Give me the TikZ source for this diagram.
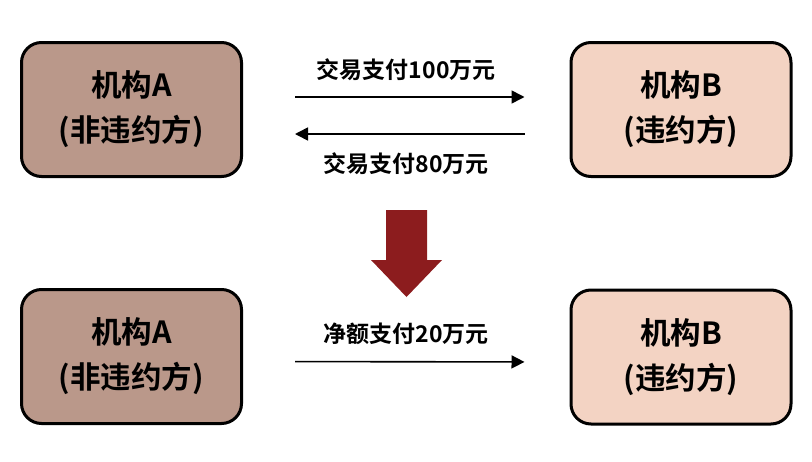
\documentclass[tikz,border=0pt]{standalone}
\usepackage{fontspec}
\newfontfamily\cjk{Noto Sans CJK SC}[BoldFont={Noto Sans CJK SC Bold}]
\usetikzlibrary{arrows.meta, positioning, calc}
\definecolor{PartyA}{HTML}{BA988A}
\definecolor{PartyB}{HTML}{F3D3C3}
\definecolor{DownRed}{HTML}{8C1C1E}
\tikzset{
  abox/.style={draw=black, line width=3pt, rounded corners=20pt, align=center,
    minimum width=220pt, minimum height=134pt, font=\cjk\bfseries\fontsize{30.5}{45}\selectfont,
    fill=PartyA},
  bbox/.style={abox, fill=PartyB},
  lbl/.style={font=\cjk\bfseries\fontsize{23}{26}\selectfont, inner sep=0pt},
  pay/.style={-{Triangle[length=13pt, width=13pt]}, line width=1.6pt, draw=black,
    shorten <=52pt, shorten >=45pt},
}

\begin{document}
\begin{tikzpicture}[x=1pt, y=-1pt]
  \useasboundingbox (0,0) rectangle (812,461);
  % before netting
  \node[abox] (a1) at (131.5,109.5) {机构A\\(非违约方)};
  \node[bbox] (b1) at (681,109.5) {机构B\\(违约方)};
  \draw[pay] ([yshift=12.5pt]a1.east) -- node[lbl, above=15pt] {交易支付100万元} ([yshift=12.5pt]b1.west);
  \draw[pay, shorten <=45pt, shorten >=52pt] ([yshift=-24.5pt]b1.west) -- node[lbl, below=18pt] {交易支付80万元} ([yshift=-24.5pt]a1.east);
  % netting step
  \fill[DownRed] (386,210) -- (427,210) -- (427,260) -- (442,260) -- (406.5,297)
    -- (371,260) -- (386,260) -- cycle;
  % after netting
  \node[abox] (a2) at (131.5,356.5) {机构A\\(非违约方)};
  \node[bbox] (b2) at (681,357) {机构B\\(违约方)};
  \draw[pay] ([yshift=-5pt]a2.east) -- node[lbl, above=16pt] {净额支付20万元} ([yshift=-5pt]b2.west);
\end{tikzpicture}
\end{document}
